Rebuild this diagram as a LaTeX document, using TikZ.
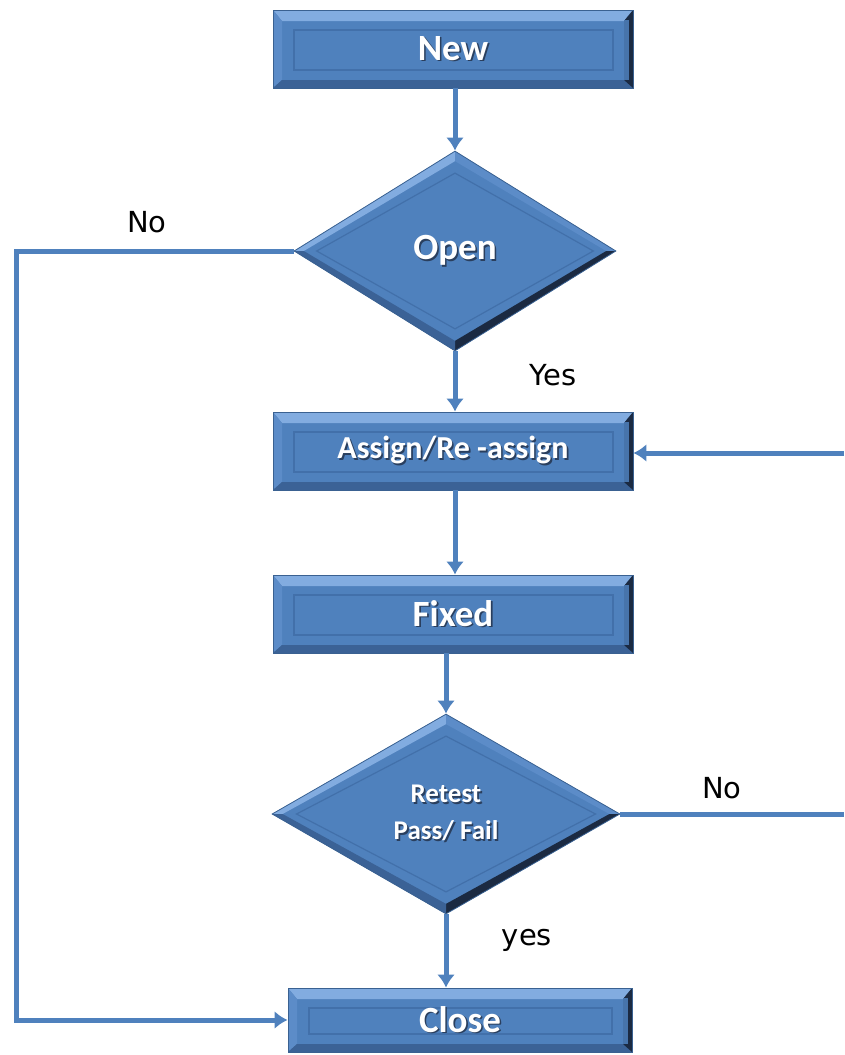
\documentclass[tikz,border=0pt]{standalone}
\usepackage{fontspec}
\usetikzlibrary{shapes.geometric,arrows.meta,calc}
\newfontfamily\boxfont{Carlito}
\newfontfamily\lblfont{DejaVu Sans}
\definecolor{boxblue}{HTML}{4F81BD}
\definecolor{boxedge}{HTML}{3A6191}
\definecolor{bevtop}{HTML}{82ACE0}
\definecolor{bevleft}{HTML}{5C8CC8}
\definecolor{bevbot}{HTML}{3B6296}
\definecolor{bevright}{HTML}{1B2A42}
\definecolor{inline}{HTML}{4270AA}
\definecolor{txtshadow}{HTML}{2A3F5E}
\definecolor{linkblue}{HTML}{4F81BD}
\newcommand\shtxt[1]{\leavevmode\rlap{\kern1.6pt\raisebox{-1.6pt}{\textcolor{txtshadow}{#1}}}#1}
\tikzset{
  bevelbox/.style={rectangle, fill=boxblue, draw=boxedge, line width=0.8pt,
    minimum width=360pt, minimum height=78pt, inner sep=0pt, text=white,
    font=\boxfont\bfseries\fontsize{37}{39}\selectfont,
    path picture={
      \coordinate (pnw) at (path picture bounding box.north west);
      \coordinate (pne) at (path picture bounding box.north east);
      \coordinate (psw) at (path picture bounding box.south west);
      \coordinate (pse) at (path picture bounding box.south east);
      \coordinate (inw) at ([xshift=9pt,yshift=-11pt]pnw);
      \coordinate (ine) at ([xshift=-9pt,yshift=-11pt]pne);
      \coordinate (isw) at ([xshift=9pt,yshift=8pt]psw);
      \coordinate (ise) at ([xshift=-9pt,yshift=8pt]pse);
      \fill[bevtop] (pnw) -- (pne) -- (ine) -- (inw) -- cycle;
      \fill[bevleft] (pnw) -- (psw) -- (isw) -- (inw) -- cycle;
      \fill[bevbot] (psw) -- (pse) -- (ise) -- (isw) -- cycle;
      \fill[bevright] (pne) -- (pse) -- (ise) -- (ine) -- cycle;
      \fill[boxblue!85!bevright] ([xshift=-4pt,yshift=-10pt]pne) rectangle ([xshift=-9pt,yshift=8pt]pse);
      \draw[inline, line width=1.2pt] ([xshift=21pt,yshift=-20pt]pnw) rectangle ([xshift=-20pt,yshift=18pt]pse);
    }},
  bevdiamond/.style={diamond, fill=boxblue, draw=boxedge, line width=0.8pt,
    inner sep=0pt, text=white, align=center,
    font=\boxfont\bfseries\fontsize{37}{39}\selectfont,
    path picture={
      \coordinate (dc) at (path picture bounding box.center);
      \coordinate (dn) at (path picture bounding box.north);
      \coordinate (de) at (path picture bounding box.east);
      \coordinate (ds) at (path picture bounding box.south);
      \coordinate (dw) at (path picture bounding box.west);
      \coordinate (in) at ($(dc)!0.9!(dn)$);
      \coordinate (ie) at ($(dc)!0.94!(de)$);
      \coordinate (is) at ($(dc)!0.9!(ds)$);
      \coordinate (iw) at ($(dc)!0.94!(dw)$);
      \fill[bevtop] (dw) -- (dn) -- (in) -- (iw) -- cycle;
      \fill[bevleft] (dn) -- (de) -- (ie) -- (in) -- cycle;
      \fill[bevright] (de) -- (ds) -- (is) -- (ie) -- cycle;
      \fill[bevbot] (ds) -- (dw) -- (iw) -- (is) -- cycle;
      \draw[inline, line width=1.2pt] ($(dc)!0.78!(dn)$) -- ($(dc)!0.86!(de)$) -- ($(dc)!0.78!(ds)$) -- ($(dc)!0.86!(dw)$) -- cycle;
    }},
  link/.style={draw=linkblue, line width=5pt},
  arr/.style={link, -{Latex[length=13pt,width=18pt]}},
  lbl/.style={font=\lblfont\fontsize{29}{31}\selectfont, text=black, inner sep=0pt}
}
\begin{document}
\begin{tikzpicture}[x=1pt,y=-1pt]
\useasboundingbox (0,0) rectangle (844,1055);
\node[bevelbox] (new) at (453,49) {\shtxt{New}};
\node[bevdiamond, minimum width=322pt, minimum height=200pt] (open) at (455,251) {\shtxt{Open}};
\node[bevelbox, font=\boxfont\bfseries\fontsize{32}{34}\selectfont] (assign) at (453,451) {\shtxt{Assign/Re -assign}};
\node[bevelbox] (fixed) at (453,614) {\shtxt{Fixed}};
\node[bevdiamond, minimum width=348pt, minimum height=200pt, font=\boxfont\bfseries\fontsize{27}{37}\selectfont] (retest) at (446,814) {\shtxt{Retest}\\\shtxt{Pass/ Fail}};
\node[bevelbox, minimum width=344pt, minimum height=64pt] (close) at (460,1020) {\shtxt{Close}};

\coordinate (lft) at (16,251);
\coordinate (rlow) at (844,814);
\coordinate (rup) at (844,453);

\draw[arr] (new.south -| open.north) -- (open.north);
\draw[arr] (open.south) -- (open.south |- assign.north);
\draw[arr] (assign.south -| open.south) -- (open.south |- fixed.north);
\draw[arr] (fixed.south -| retest.north) -- (retest.north);
\draw[arr] (retest.south) -- (retest.south |- close.north);
\draw[arr] (open.west) -- (lft) |- (close.west);
\draw[link] (retest.east) -- (rlow);
\draw[arr] (rup) -- (rup -| assign.east);

\node[lbl] (nol) at (147,222) {No};
\node[lbl] (yes1) at (553,375) {Yes};
\node[lbl] (nor) at (722,788) {No};
\node[lbl] (yes2) at (527,940) {yes};
\end{tikzpicture}
\end{document}
